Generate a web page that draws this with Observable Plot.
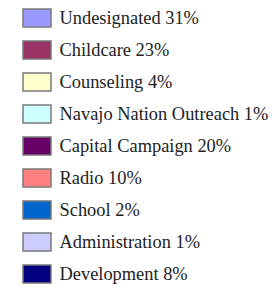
<!DOCTYPE html>
<html>
<head>
<meta charset="utf-8">
<script src="https://cdn.jsdelivr.net/npm/d3@7"></script>
<script src="https://cdn.jsdelivr.net/npm/@observablehq/plot@0.6"></script>
<style>
  html, body { margin: 0; padding: 0; background: #fff; }
  svg { display: block; }
  svg text { font-family: "Liberation Serif", "Times New Roman", "DejaVu Serif", serif !important; }
</style>
</head>
<body>
<div id="chart"></div>
<script>
const categories = ["Undesignated", "Childcare", "Counseling", "Navajo Nation Outreach", "Capital Campaign", "Radio", "School", "Administration", "Development"];
const percents = [31, 23, 4, 1, 20, 10, 2, 1, 8];
const colors = ["#9999ff", "#993366", "#ffffcc", "#ccffff", "#660066", "#ff8080", "#0066cc", "#ccccff", "#000080"];

const rows = categories.map((c, i) => ({category: c, pct: percents[i], label: `${c} ${percents[i]}%`}));

const chart = Plot.plot({
  width: 272,
  height: 287,
  margin: 0,
  style: {background: "#fff"},
  x: {domain: [0, 1], range: [23, 51], axis: null},
  y: {domain: categories, range: [8.5, 283.7], paddingInner: 0.44, paddingOuter: 0, axis: null},
  color: {domain: categories, range: colors},
  marks: [
    Plot.barX(rows, {y: "category", x1: 0, x2: 1, fill: "category", stroke: "#7a7a7a", strokeWidth: 1.5}),
    Plot.text(rows, {y: "category", x: 1, text: "label", dx: 8, textAnchor: "start", lineAnchor: "middle", fontFamily: "Liberation Serif, Times New Roman, serif", fontSize: 18.4, fill: "#222"})
  ]
});
document.getElementById("chart").appendChild(chart);
</script>
</body>
</html>
